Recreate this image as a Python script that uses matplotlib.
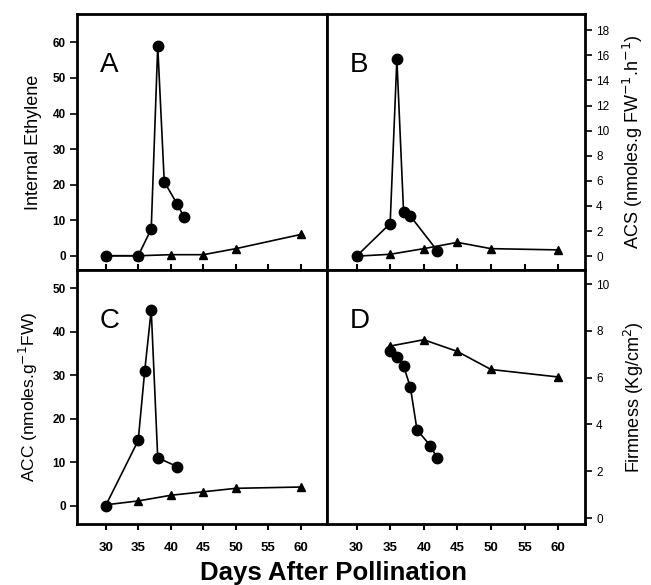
import matplotlib
matplotlib.use('Agg')
import matplotlib.pyplot as plt

plt.rcParams['font.family'] = ['Liberation Sans', 'DejaVu Sans']

# panel A: internal ethylene
eth_circ_days = [30, 35, 37, 38, 39, 41, 42]
eth_circ = [0, 0, 7.5, 59, 20.8, 14.5, 11]
eth_tri_days = [30, 35, 40, 45, 50, 60]
eth_tri = [0, 0, 0.3, 0.3, 2, 6]

# panel B: ACS
acs_circ_days = [30, 35, 36, 37, 38, 42]
acs_circ = [0, 2.6, 15.7, 3.5, 3.2, 0.45]
acs_tri_days = [30, 35, 40, 45, 50, 60]
acs_tri = [0, 0.15, 0.6, 1.1, 0.6, 0.5]

# panel C: ACC
acc_circ_days = [30, 35, 36, 37, 38, 41]
acc_circ = [0, 15, 31, 45, 11, 9]
acc_tri_days = [30, 35, 40, 45, 50, 60]
acc_tri = [0.2, 1.1, 2.4, 3.2, 4.0, 4.3]

# panel D: firmness
firm_circ_days = [35, 36, 37, 38, 39, 41, 42]
firm_circ = [7.12, 6.9, 6.49, 5.61, 3.77, 3.09, 2.56]
firm_tri_days = [35, 40, 45, 50, 60]
firm_tri = [7.35, 7.62, 7.12, 6.35, 6.03]

xticks = [30, 35, 40, 45, 50, 55, 60]

fig = plt.figure(figsize=(6.51, 5.85), dpi=100)
L, M, R = 0.1183, 0.5023, 0.8986
T, H, B = 0.9761, 0.5385, 0.1043
axA = fig.add_axes([L, H, M - L, T - H])
axB = fig.add_axes([M, H, R - M, T - H])
axC = fig.add_axes([L, B, M - L, H - B])
axD = fig.add_axes([M, B, R - M, H - B])

panels = [
    (axA, eth_tri_days, eth_tri, eth_circ_days, eth_circ, (-4, 68), range(0, 61, 10), 'A'),
    (axB, acs_tri_days, acs_tri, acs_circ_days, acs_circ, (-1.1, 19.3), range(0, 19, 2), 'B'),
    (axC, acc_tri_days, acc_tri, acc_circ_days, acc_circ, (-4.2, 54.2), range(0, 51, 10), 'C'),
    (axD, firm_tri_days, firm_tri, firm_circ_days, firm_circ, (-0.25, 10.6), range(0, 11, 2), 'D'),
]

for ax, tx, ty, cx, cy, ylim, yt, letter in panels:
    ax.plot(tx, ty, '-^', color='black', lw=1.2, ms=5.5)
    ax.plot(cx, cy, '-o', color='black', lw=1.2, ms=7.5)
    ax.set_xlim(25.6, 64.0)
    ax.set_ylim(*ylim)
    ax.set_xticks(xticks)
    ax.set_yticks(list(yt))
    for s in ax.spines.values():
        s.set_linewidth(2)
    ax.tick_params(axis='y', width=1.2, length=5, pad=3, labelsize=8.5)
    ax.tick_params(axis='x', width=1.5, length=4, labelsize=9.5)
    for lab in ax.get_xticklabels() + ax.get_yticklabels():
        lab.set_fontweight('bold')
    ax.text(0.09, 0.773, letter, transform=ax.transAxes, fontsize=20)

# top row: inward ticks, no x labels
for ax in (axA, axB):
    ax.tick_params(axis='x', direction='in', labelbottom=False)
for ax in (axC, axD):
    ax.tick_params(axis='x', direction='out', pad=9)

for ax in (axB, axD):
    ax.yaxis.tick_right()
    ax.yaxis.set_label_position('right')

axA.set_ylabel('Internal Ethylene', fontsize=13, labelpad=8)
axB.set_ylabel('ACS (nmoles.g FW$^{-1}$.h$^{-1}$)', fontsize=13, labelpad=8)
axC.set_ylabel('ACC (nmoles.g$^{-1}$FW)', fontsize=12.5, labelpad=9)
axD.set_ylabel('Firmness (Kg/cm$^2$)', fontsize=13, labelpad=9)

fig.text(0.512, 0.02, 'Days After Pollination', ha='center', va='center',
         fontsize=18.5, fontweight='bold')

fig.savefig('out.png', dpi=100)
